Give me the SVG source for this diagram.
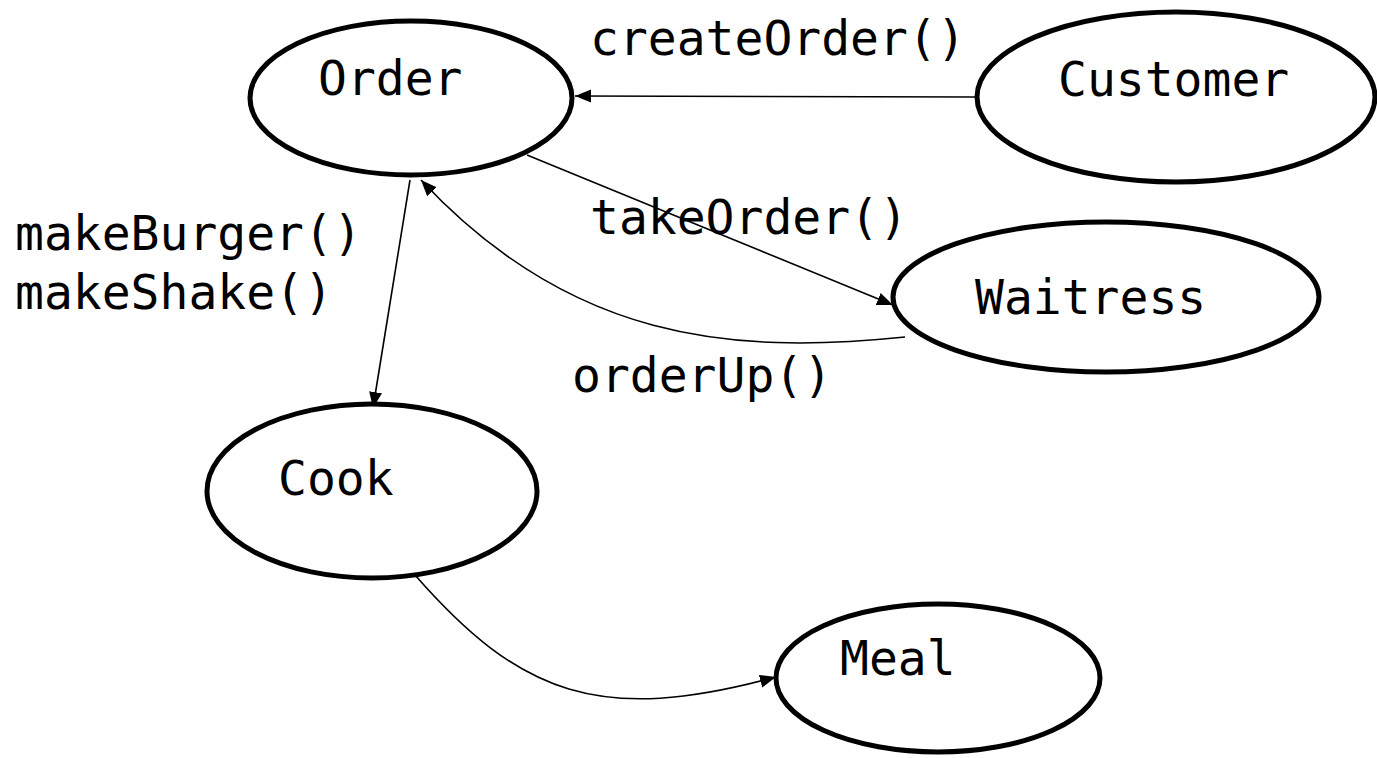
<svg xmlns="http://www.w3.org/2000/svg" width="1377" height="758" viewBox="0 0 1377 758">
<style>
.node ellipse{fill:#fff;stroke:#000;stroke-width:5}
text{font-family:"DejaVu Sans Mono","Liberation Mono",monospace;font-size:48px;fill:#000}
.conn path{fill:none;stroke:#000;stroke-width:1.6}
</style>
<defs>
<marker id="arr" markerUnits="userSpaceOnUse" markerWidth="18" markerHeight="16" refX="16" refY="8" orient="auto">
<path d="M0,1.5 L16,8 L0,14.5 Z" fill="#000"/>
</marker>
</defs>
<rect width="1377" height="758" fill="#fff"/>
<g id="connectors" class="conn">
<path d="M976,97 L575,96" marker-end="url(#arr)"/>
<path d="M527,155 L893,305" marker-end="url(#arr)"/>
<path d="M905,337 C730,355 570,340 421,180" marker-end="url(#arr)"/>
<path d="M410,180 L373,408" marker-end="url(#arr)"/>
<path d="M415,575 C520,695 600,725 776,677" marker-end="url(#arr)"/>
</g>
<g id="order" class="node"><ellipse cx="411" cy="98" rx="161" ry="77"/><text x="318" y="95">Order</text></g>
<g id="customer" class="node"><ellipse cx="1176" cy="97" rx="199" ry="85"/><text x="1058" y="96">Customer</text></g>
<g id="waitress" class="node"><ellipse cx="1106" cy="297" rx="213" ry="75"/><text x="975" y="314">Waitress</text></g>
<g id="cook" class="node"><ellipse cx="372" cy="491" rx="165" ry="87"/><text x="278" y="495">Cook</text></g>
<g id="meal" class="node"><ellipse cx="938" cy="678" rx="162" ry="74"/><text x="840" y="675">Meal</text></g>
<g id="labels">
<text x="590" y="55">createOrder()</text>
<text x="590" y="234">takeOrder()</text>
<text x="572" y="392">orderUp()</text>
<text x="15" y="250">makeBurger()</text>
<text x="15" y="309">makeShake()</text>
</g>
</svg>
